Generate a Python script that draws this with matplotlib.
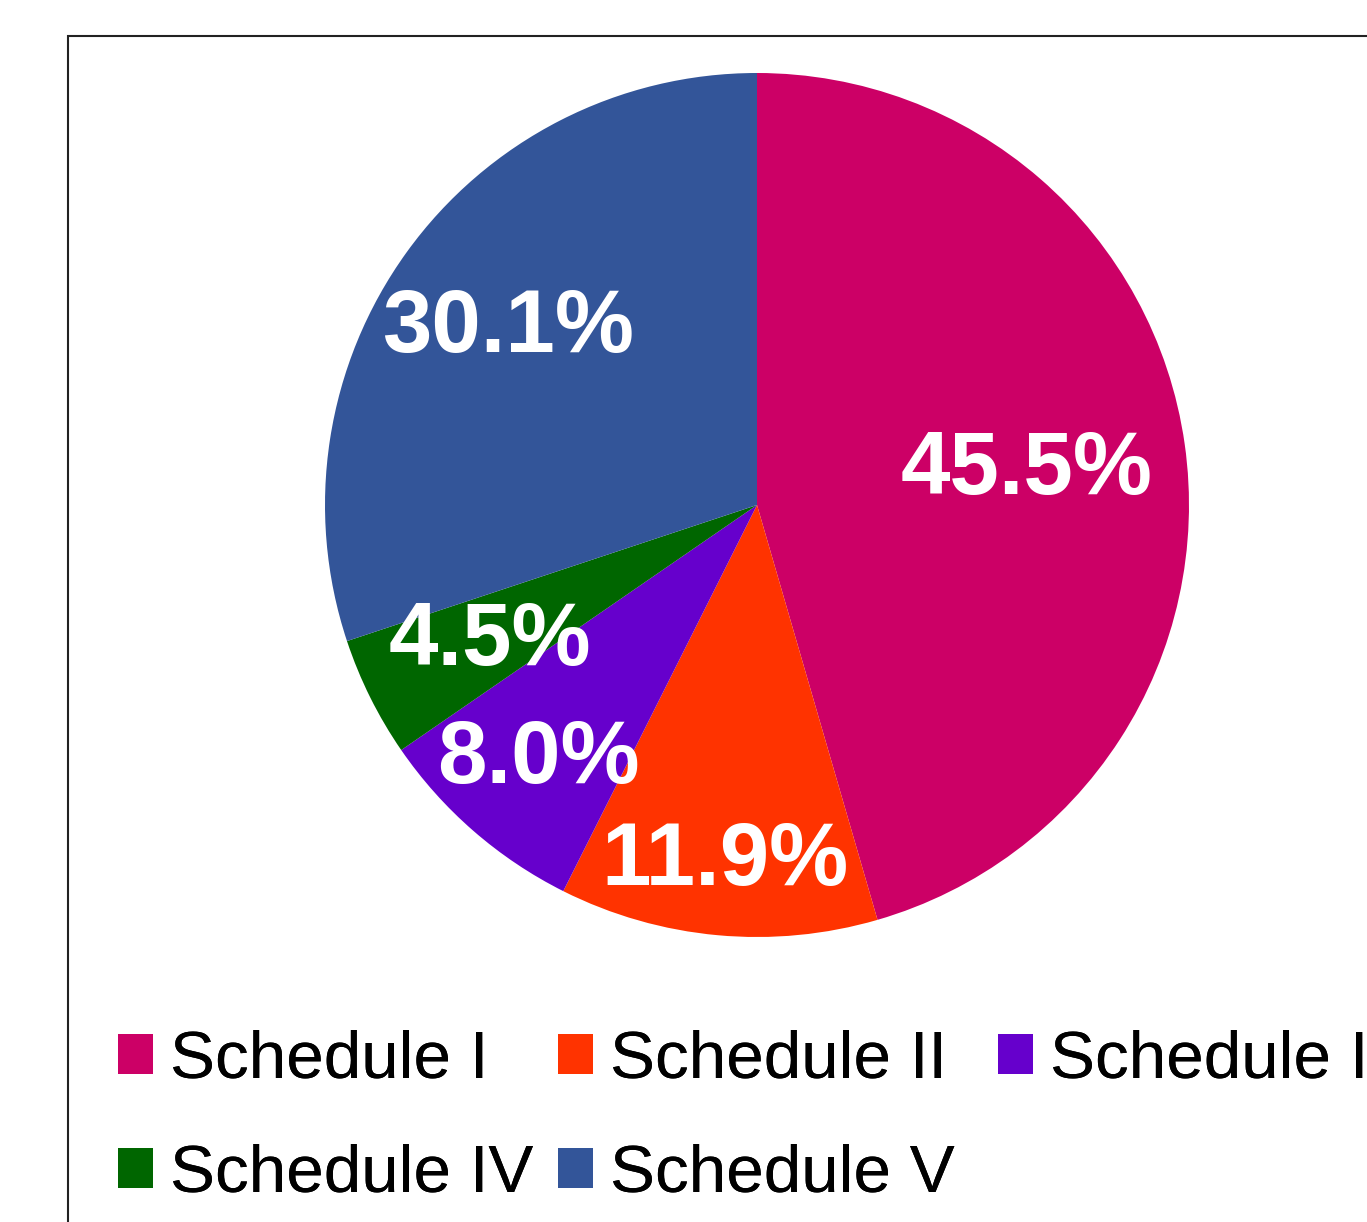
import matplotlib.pyplot as plt
import numpy as np
from matplotlib.patches import Rectangle, Patch

plt.rcParams['font.family'] = ['Liberation Sans', 'DejaVu Sans']

# data
labels = ['Schedule I', 'Schedule II', 'Schedule III', 'Schedule IV', 'Schedule V']
shares = [45.5, 11.9, 8.0, 4.5, 30.1]
colors = ['#CC0066', '#FF3300', '#6600CC', '#006600', '#335599']
# radial position of each percentage label (fraction of radius)
label_dist = [0.63, 0.82, 0.77, 0.69, 0.71]

W, H = 1367, 1222
fig = plt.figure(figsize=(W / 100, H / 100), dpi=100)

# pie axes: centre (757, 505) px, radius 432 px
cx, cy, r = 757, 505, 432
ax = fig.add_axes([(cx - r) / W, (H - cy - r) / H, 2 * r / W, 2 * r / H])
wedges, _ = ax.pie(shares, colors=colors, startangle=90, counterclock=False,
                   radius=1, wedgeprops=dict(linewidth=0))
ax.set_xlim(-1, 1)
ax.set_ylim(-1, 1)
ax.set_aspect('equal')
ax.axis('off')

for w, val, d in zip(wedges, shares, label_dist):
    ang = np.deg2rad((w.theta1 + w.theta2) / 2)
    ax.annotate(f'{val:.1f}%', (d * np.cos(ang), d * np.sin(ang)),
                xytext=(0, -4), textcoords='offset pixels', color='white',
                fontsize=64, fontweight='bold', ha='center', va='center')

# outer frame (runs off the right and bottom edges)
fig.add_artist(Rectangle((68 / W, -0.1), 1.2, (H - 36) / H + 0.1,
                         transform=fig.transFigure, fill=False,
                         edgecolor='#222222', linewidth=1.5))

# legend: three equal-width columns, filled row-wise
# (the third column runs off the right edge, as in the original)
columns = [[0, 3], [1, 4], [2]]
col_x = [118, 558, 998]
for idx, x0 in zip(columns, col_x):
    handles = [Patch(facecolor=colors[i], edgecolor='none') for i in idx]
    leg = fig.legend(handles, [labels[i] for i in idx], ncol=1, frameon=False,
                     loc='upper left', bbox_to_anchor=(x0 / W, (H - 1030) / H),
                     fontsize=48.5, borderpad=0, borderaxespad=0,
                     handlelength=0.52, handleheight=0.52, handletextpad=0.25,
                     labelspacing=0.77)
    fig.add_artist(leg)

fig.savefig('out.png', dpi=100)
